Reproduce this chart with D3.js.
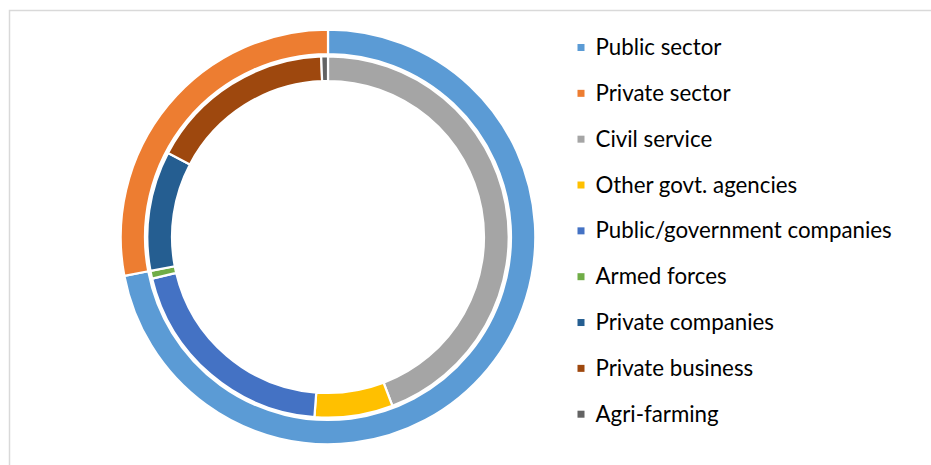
<!DOCTYPE html>
<html>
<head>
<meta charset="utf-8">
<script src="https://cdn.jsdelivr.net/npm/d3@7"></script>
<style>
  html, body { margin: 0; padding: 0; background: #ffffff; }
  svg { display: block; }
</style>
</head>
<body>
<svg id="chart" width="931" height="465"></svg>
<script>
// Employment split: outer ring = sector, inner ring = type of employer (percent)
const sectorLabels = ["Public sector", "Private sector"];
const sectorValues = [72.0, 28.0];

const employerLabels = ["Civil service", "Other govt. agencies", "Public/government companies",
                        "Armed forces", "Private companies", "Private business", "Agri-farming"];
const employerValues = [44.2, 7.0, 20.1, 0.7, 10.7, 16.7, 0.6];

const sectorColors = ["#5B9BD5", "#ED7D31"];
const employerColors = ["#A5A5A5", "#FFC000", "#4472C4", "#70AD47", "#255E91", "#9E480E", "#636363"];

const svg = d3.select("#chart");
const W = 931, H = 465;

// chart frame
svg.append("path")
  .attr("d", `M9.5,${H} V10.5 H${W}`)
  .attr("fill", "none")
  .attr("stroke", "#d9d9d9")
  .attr("stroke-width", 1.5);

const cx = 328, cy = 237;
const g = svg.append("g").attr("transform", `translate(${cx},${cy})`);

const pie = d3.pie().sort(null).value(d => d);

const outerArc = d3.arc().innerRadius(183).outerRadius(207.3);
const innerArc = d3.arc().innerRadius(156).outerRadius(180.7);

g.selectAll("path.sector")
  .data(pie(sectorValues))
  .join("path")
  .attr("class", "sector")
  .attr("d", outerArc)
  .attr("fill", (d, i) => sectorColors[i])
  .attr("stroke", "#ffffff")
  .attr("stroke-width", 2.2)
  .attr("stroke-linejoin", "round");

g.selectAll("path.employer")
  .data(pie(employerValues))
  .join("path")
  .attr("class", "employer")
  .attr("d", innerArc)
  .attr("fill", (d, i) => employerColors[i])
  .attr("stroke", "#ffffff")
  .attr("stroke-width", 2.2)
  .attr("stroke-linejoin", "round");

// legend
const legendItems = sectorLabels.map((t, i) => ({ t, c: sectorColors[i] }))
  .concat(employerLabels.map((t, i) => ({ t, c: employerColors[i] })));

const ly = d3.scaleLinear().domain([0, legendItems.length - 1]).range([55, 421.7]);

const leg = svg.append("g");
const rows = leg.selectAll("g").data(legendItems).join("g")
  .attr("transform", (d, i) => `translate(0,${ly(i)})`);

rows.append("rect")
  .attr("x", 577.5).attr("y", -11)
  .attr("width", 7).attr("height", 7)
  .attr("fill", d => d.c);

rows.append("text")
  .attr("x", 595.5).attr("y", 0)
  .attr("font-family", "Lato, 'Open Sans', sans-serif")
  .attr("font-size", 22.3)
  .attr("fill", "#000000")
  .text(d => d.t);
</script>
</body>
</html>
